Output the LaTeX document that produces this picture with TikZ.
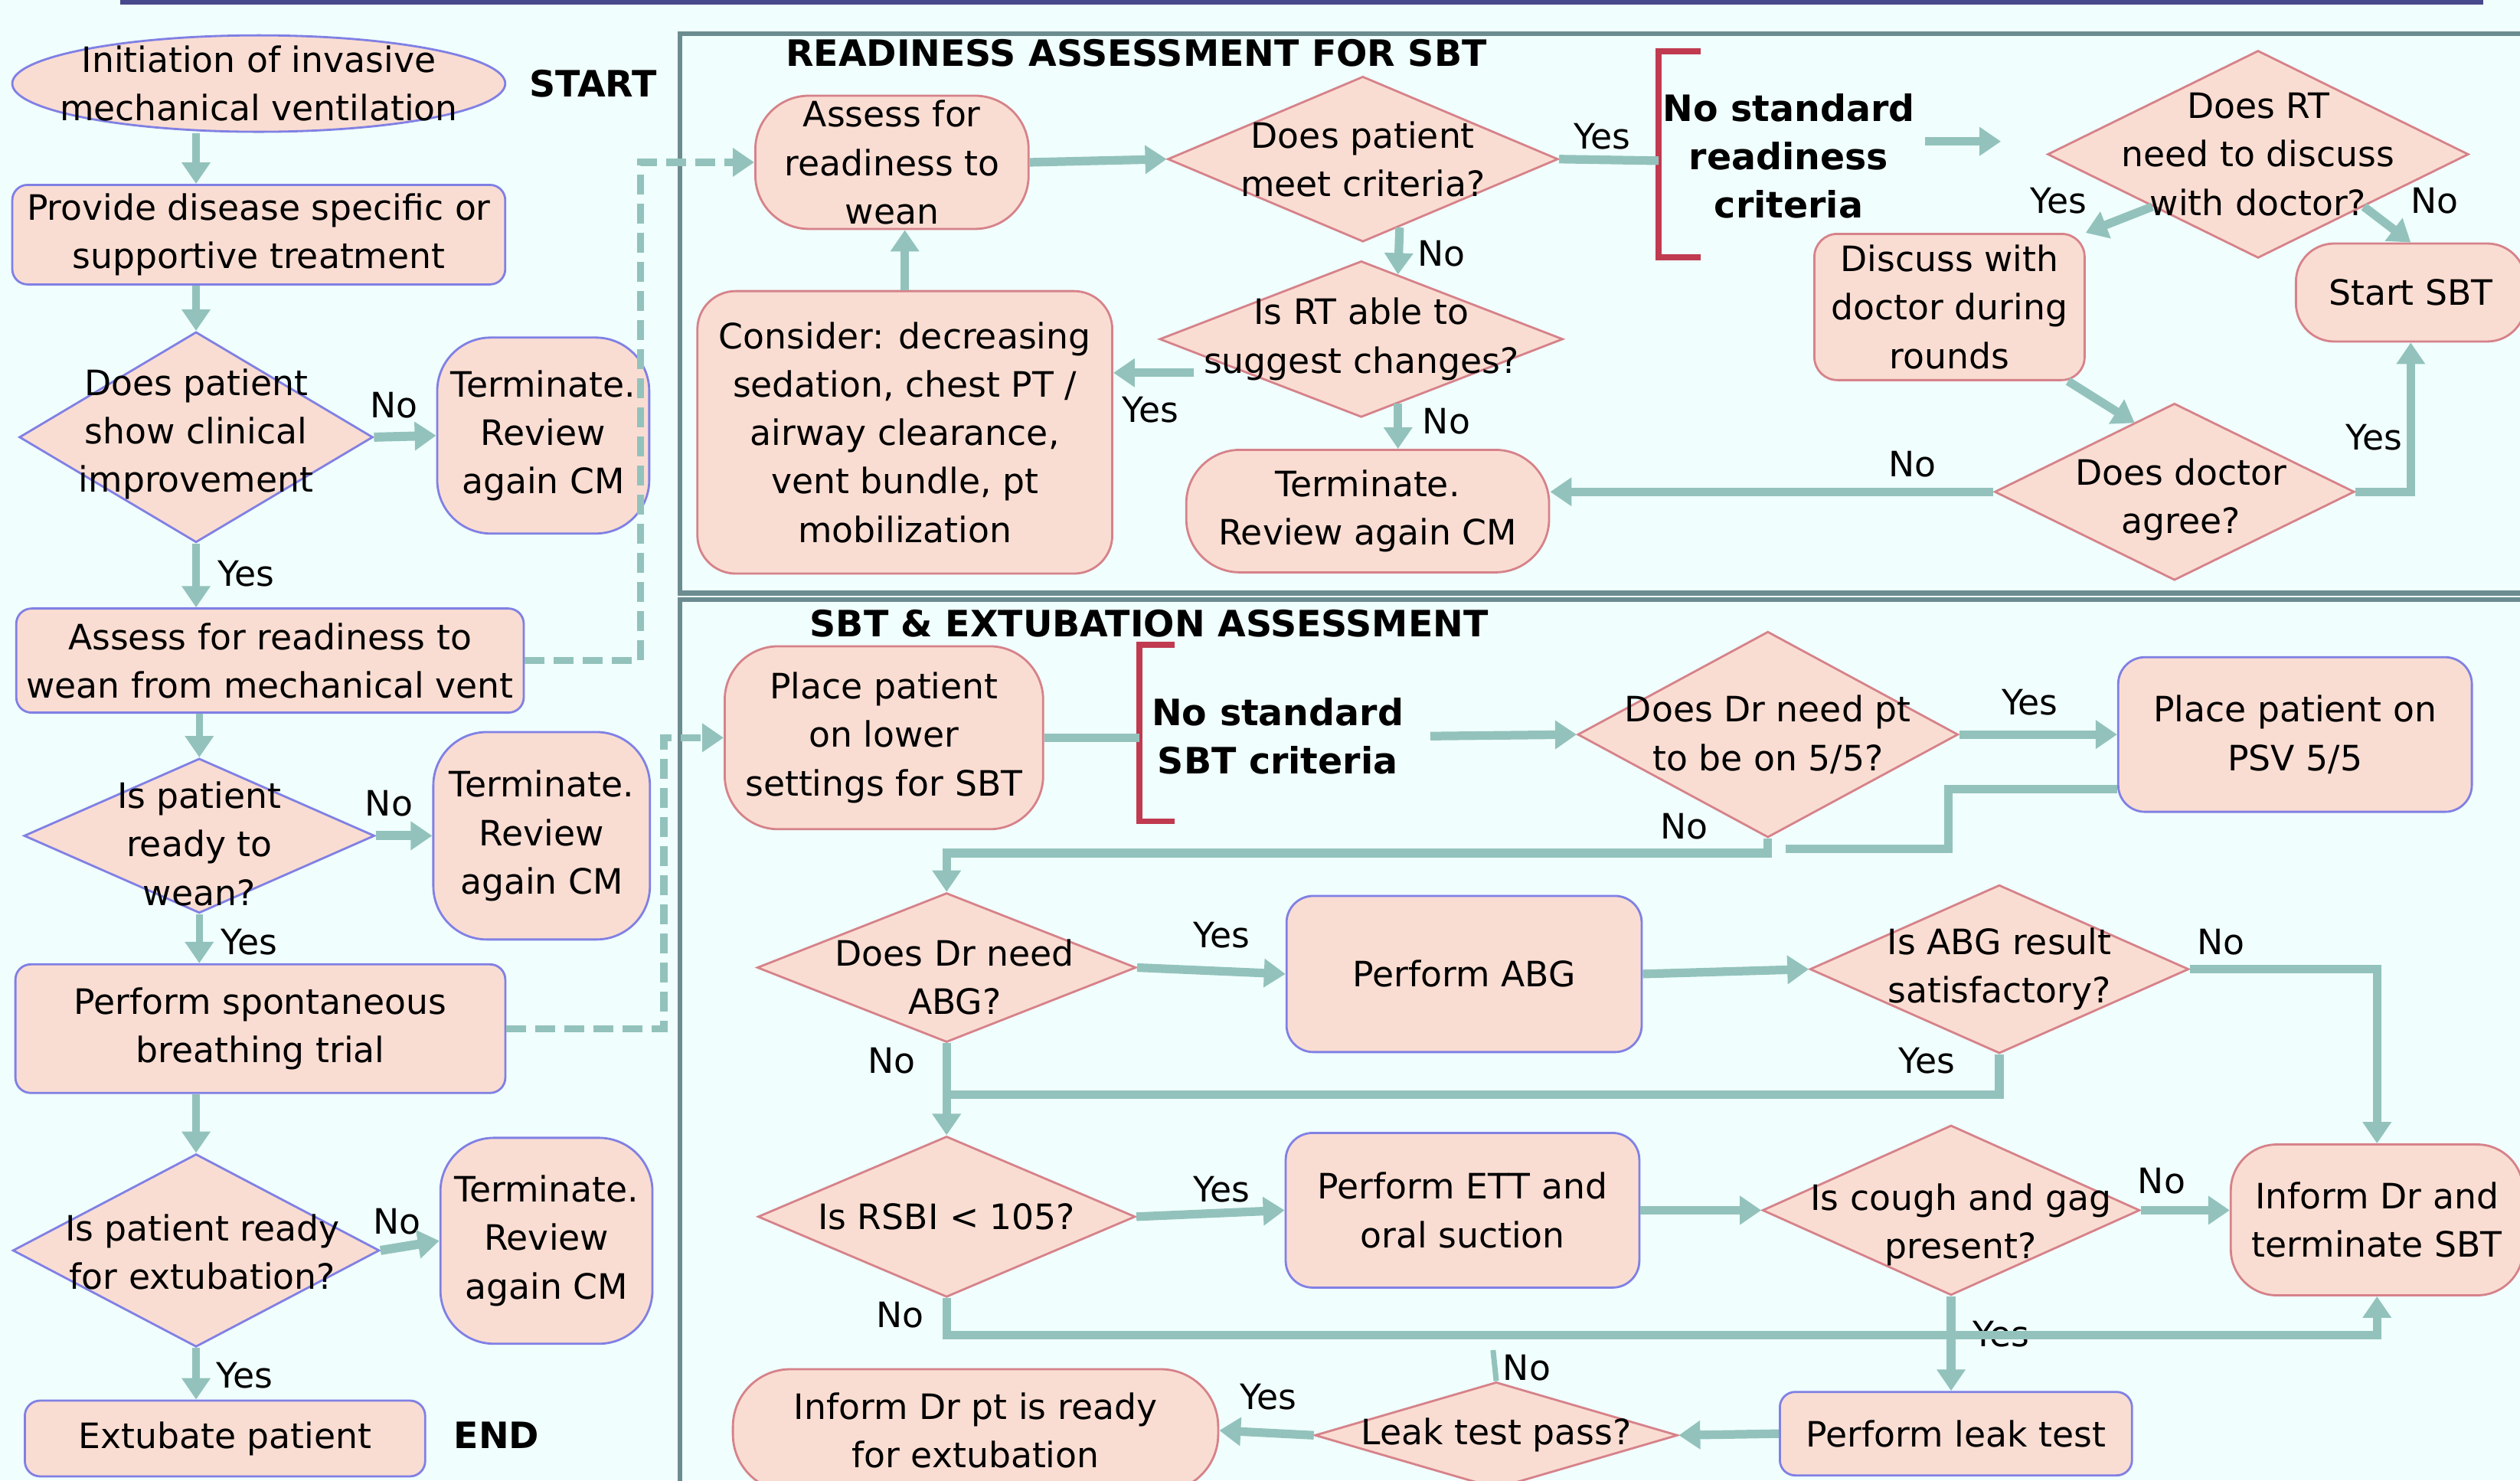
\documentclass[tikz,border=0pt]{standalone}
\usepackage{fontspec}
\setmainfont{DejaVu Sans}
\usepackage{xcolor}
\usetikzlibrary{positioning,shapes.geometric,arrows.meta,calc}

\definecolor{bgcol}{RGB}{240,255,253}
\definecolor{boxfill}{RGB}{250,221,210}
\definecolor{lav}{RGB}{128,128,228}
\definecolor{rose}{RGB}{214,130,138}
\definecolor{conn}{RGB}{147,194,188}
\definecolor{panelcol}{RGB}{108,140,144}
\definecolor{brack}{RGB}{192,58,80}
\definecolor{topline}{RGB}{72,72,140}

\begin{document}
\begin{tikzpicture}[
    x=0.02099cm, y=-0.02099cm,
    every node/.style={font=\fontsize{13}{18}\selectfont},
    box/.style={draw=lav, line width=0.8pt, fill=boxfill, rounded corners=0.2cm, align=center, inner sep=1pt},
    pbox/.style={box, draw=rose},
    pill/.style={box, rounded corners=0.7cm},
    ppill/.style={pill, draw=rose},
    oval/.style={ellipse, draw=lav, line width=0.8pt, fill=boxfill, inner sep=0pt},
    decision/.style={diamond, draw=lav, line width=0.8pt, fill=boxfill, inner sep=0pt},
    pdecision/.style={decision, draw=rose},
    txt/.style={align=center, inner sep=0pt},
    lbl/.style={inner sep=1pt},
    heading/.style={font=\fontsize{13.5}{18}\selectfont\bfseries},
    strong/.style={txt, font=\fontsize{13.5}{18}\selectfont\bfseries},
    flow/.style={draw=conn, line width=2.6pt, -{Triangle[length=0.28cm,width=0.36cm]}},
    arrow/.style={flow, line width=3.2pt},
    link/.style={draw=conn, line width=3.2pt},
    dashflow/.style={flow, dash pattern=on 0.26cm off 0.12cm},
    bracket/.style={draw=brack, line width=2.2pt},
    panel/.style={draw=panelcol, line width=1.8pt}
]
\useasboundingbox (0,0) rectangle (1568,921);
\clip (0,0) rectangle (1568,921);
\fill[bgcol] (0,0) rectangle (1568,921);
\draw[line width=2.5pt, topline] (75,1) -- (1545,1);

% Panels
\draw[panel] (423,21) rectangle (1590,369);
\draw[panel] (423,373) rectangle (1590,950);
\node[heading] (title1) at (707,33) {READINESS ASSESSMENT FOR SBT};
\node[heading] (title2) at (715,388) {SBT \& EXTUBATION ASSESSMENT};

% Left column
\node[oval, minimum width=6.44cm, minimum height=1.26cm] (init) at (161,52) {};
\node[txt] (t-init) at (init) {Initiation of invasive\\mechanical ventilation};
\node[heading] (start) at (369,52) {START};
\node[box, minimum width=6.44cm, minimum height=1.30cm] (prov) at (161,146) {Provide disease specific or\\supportive treatment};
\node[decision, minimum width=4.62cm, minimum height=2.75cm] (improve) at (122,272) {};
\node[txt] (t-improve) at (122,270) {Does patient\\show clinical\\improvement};
\node[pill, minimum width=2.77cm, minimum height=2.56cm] (term1) at (338,271) {Terminate.\\Review\\again CM};
\node[box, minimum width=6.63cm, minimum height=1.36cm] (assess) at (168,411) {Assess for readiness to\\wean from mechanical vent};
\node[decision, minimum width=4.58cm, minimum height=2.02cm] (ready) at (124,520) {};
\node[txt] (t-ready) at (124,525) {Is patient\\ready to\\wean?};
\node[pill, minimum width=2.83cm, minimum height=2.71cm] (term2) at (337,520) {Terminate.\\Review\\again CM};
\node[box, minimum width=6.40cm, minimum height=1.68cm] (sbt) at (162,640) {Perform spontaneous\\breathing trial};
\node[decision, minimum width=4.79cm, minimum height=2.52cm] (extub) at (122,778) {};
\node[txt] (t-extub) at (126,779) {Is patient ready\\for extubation?};
\node[pill, minimum width=2.77cm, minimum height=2.69cm] (term3) at (340,772) {Terminate.\\Review\\again CM};
\node[box, minimum width=5.23cm, minimum height=0.99cm] (ext) at (140,895) {Extubate patient};
\node[heading] (fin) at (309,893) {END};

\node[lbl] (no1) at (245,252) {No};
\node[lbl] (yes1) at (153,357) {Yes};
\node[lbl] (no2) at (242,500) {No};
\node[lbl] (yes2) at (155,586) {Yes};
\node[lbl] (no3) at (247,760) {No};
\node[lbl] (yes3) at (152,856) {Yes};

\draw[flow] (init.south -| improve.north) -- (prov.north -| improve.north);
\draw[flow] (prov.south -| improve.north) -- (improve.north);
\draw[flow, line width=3.4pt] (improve.east) -- (term1.west);
\draw[flow] (improve.south) -- (improve.south |- assess.north);
\draw[flow] (assess.south -| ready.north) -- (ready.north);
\draw[flow, line width=3.4pt] (ready.east) -- (term2.west);
\draw[flow] (ready.south) -- (ready.south |- sbt.north);
\draw[flow] (sbt.south -| extub.north) -- (extub.north);
\draw[flow, line width=3.4pt] (extub.east) -- (term3.west);
\draw[flow] (extub.south) -- (extub.south |- ext.north);

% Readiness assessment
\node[ppill, minimum width=3.57cm, minimum height=1.74cm, inner sep=0pt] (rdy) at (555,101) {Assess for\\readiness to\\wean};
\node[pdecision, minimum width=5.10cm, minimum height=2.16cm] (meet) at (848,99) {};
\node[txt] (t-meet) at (meet) {Does patient\\meet criteria?};
\coordinate (br1) at (1032,100);
\draw[bracket] (1058,32) -- (1032,32) -- (1032,160) -- (1058,160);
\node[strong] (std1) at (1113,97) {No standard\\readiness\\criteria};
\coordinate (std1out) at (1198,88);
\coordinate (std1to) at (1245,88);
\node[pdecision, minimum width=5.50cm, minimum height=2.71cm] (rtneed) at (1405,96) {};
\node[txt] (t-rtneed) at (rtneed) {Does RT\\need to discuss\\with doctor?};
\node[pbox, minimum width=3.53cm, minimum height=1.91cm, rounded corners=0.3cm] (discuss) at (1213,191) {Discuss with\\doctor during\\rounds};
\node[ppill, minimum width=3.0cm, minimum height=1.28cm, rounded corners=0.5cm] (startsbt) at (1500,182) {Start SBT};
\node[pdecision, minimum width=4.70cm, minimum height=2.31cm] (agree) at (1353,306) {};
\node[txt] (t-agree) at (1357,311) {Does doctor\\agree?};
\node[pdecision, minimum width=5.27cm, minimum height=2.04cm] (rtable) at (847,211) {};
\node[txt] (t-rtable) at (rtable) {Is RT able to\\suggest changes?};
\node[ppill, minimum width=5.42cm, minimum height=3.69cm, rounded corners=0.5cm] (consider) at (563,269) {Consider: decreasing\\sedation, chest PT /\\airway clearance,\\vent bundle, pt\\mobilization};
\node[ppill, minimum width=4.74cm, minimum height=1.60cm] (term4) at (851,318) {Terminate.\\Review again CM};

\node[lbl] (yes4) at (997,85) {Yes};
\node[lbl] (no4) at (897,158) {No};
\node[lbl] (no5) at (900,262) {No};
\node[lbl] (yes5) at (716,255) {Yes};
\node[lbl] (yes6) at (1281,125) {Yes};
\node[lbl] (no6) at (1515,125) {No};
\node[lbl] (yes7) at (1477,272) {Yes};
\node[lbl] (no7) at (1190,289) {No};

\draw[dashflow] (assess.east) -- ++(72,0) |- (rdy.west);
\draw[arrow] (rdy.east) -- (meet.west);
\draw[link] (meet.east) -- (br1);
\draw[arrow] (std1out) -- (std1to);
\draw[arrow] ([xshift=0.48cm,yshift=0.2cm]meet.south) -- ([xshift=0.48cm,yshift=-0.19cm]rtable.north);
\draw[arrow] ([xshift=0.48cm,yshift=0.19cm]rtable.south) -- ([xshift=0.48cm]rtable.south |- term4.north);
\draw[arrow] ([xshift=0.46cm,yshift=-0.44cm]rtable.west) -- ([yshift=-0.44cm]rtable.west -| consider.east);
\draw[arrow] (consider.north) -- (consider.north |- rdy.south);
\draw[arrow] (rtneed.south west) -- (discuss.north east);
\draw[arrow] (rtneed.south east) -- (startsbt.north);
\draw[arrow] ([xshift=-0.23cm]discuss.south east) -- ([xshift=-0.52cm,yshift=-0.27cm]agree.north);
\draw[arrow] (agree.east) -| (startsbt.south);
\draw[arrow] (agree.west) -- (agree.west -| term4.east);

% SBT and extubation
\node[ppill, minimum width=4.16cm, minimum height=2.39cm] (place) at (550,459) {Place patient\\on lower\\settings for SBT};
\coordinate (br2) at (709,459);
\draw[bracket] (731,401) -- (709,401) -- (709,511) -- (731,511);
\node[strong] (std2) at (795,458) {No standard\\SBT criteria};
\coordinate (std2out) at (890,458);
\node[pdecision, minimum width=4.97cm, minimum height=2.69cm] (pt55) at (1100,457) {};
\node[txt] (t-pt55) at (pt55) {Does Dr need pt\\to be on 5/5?};
\node[box, minimum width=4.62cm, minimum height=2.02cm, rounded corners=0.35cm] (psv) at (1428,457) {Place patient on\\PSV 5/5};
\coordinate (psvend) at (1111,528);
\node[pdecision, minimum width=4.95cm, minimum height=1.95cm] (abg) at (589,602) {};
\node[txt] (t-abg) at (594,608) {Does Dr need\\ABG?};
\node[box, minimum width=4.64cm, minimum height=2.04cm, rounded corners=0.35cm] (pabg) at (911,606) {Perform ABG};
\node[pdecision, minimum width=4.95cm, minimum height=2.20cm] (abgok) at (1244,603) {};
\node[txt] (t-abgok) at (abgok) {Is ABG result\\satisfactory?};
\node[pdecision, minimum width=4.93cm, minimum height=2.10cm] (rsbi) at (589,757) {};
\node[txt] (t-rsbi) at (rsbi) {Is RSBI < 105?};
\node[box, minimum width=4.62cm, minimum height=2.02cm, rounded corners=0.35cm] (ett) at (910,753) {Perform ETT and\\oral suction};
\node[pdecision, minimum width=4.93cm, minimum height=2.22cm] (cough) at (1214,753) {};
\node[txt] (t-cough) at (1220,762) {Is cough and gag\\present?};
\node[ppill, minimum width=3.82cm, minimum height=1.97cm, rounded corners=0.6cm] (infterm) at (1479,759) {Inform Dr and\\terminate SBT};
\node[box, minimum width=4.60cm, minimum height=1.09cm] (leak) at (1217,892) {Perform leak test};
\node[pdecision, minimum width=4.74cm, minimum height=1.39cm] (leakpass) at (931,893) {};
\node[txt] (t-leakpass) at (leakpass) {Leak test pass?};
\coordinate (lpno) at (929,840);
\node[ppill, minimum width=6.34cm, minimum height=1.6cm, rounded corners=0.75cm] (inform) at (607,890) {Inform Dr pt is ready\\for extubation};

\node[lbl] (yes8) at (1263,437) {Yes};
\node[lbl] (no8) at (1048,514) {No};
\node[lbl] (yes9) at (760,582) {Yes};
\node[lbl] (no9) at (555,660) {No};
\node[lbl] (no10) at (1382,586) {No};
\node[lbl] (yes10) at (1199,660) {Yes};
\node[lbl] (yes11) at (760,740) {Yes};
\node[lbl] (no11) at (1345,735) {No};
\node[lbl] (no12) at (560,818) {No};
\node[lbl] (yes12) at (1245,830) {Yes};
\node[lbl] (no13) at (950,851) {No};
\node[lbl] (yes13) at (789,869) {Yes};

\draw[dashflow] (sbt.east) -- ++(98,0) |- (place.west);
\draw[link] (place.east) -- (br2);
\draw[arrow] (std2out) -- (pt55.west);
\draw[arrow] (pt55.east) -- (psv.west);
\draw[link] ([yshift=-0.71cm]psv.west) -- ++(-105,0) |- (psvend);
\draw[arrow] (pt55.south) -- ++(0,9) -| (abg.north);
\draw[arrow] (abg.east) -- (pabg.west);
\draw[arrow] (pabg.east) -- (abgok.west);
\draw[arrow] (abgok.east) -| (infterm.north);
\draw[arrow] (abg.south) -- (rsbi.north);
\draw[link] (abgok.south) |- ($(abg.south)!0.56!(rsbi.north)$);
\draw[arrow] (rsbi.east) -- (ett.west);
\draw[arrow] (ett.east) -- (ett.east -| cough.west);
\draw[arrow] (cough.east) -- (cough.east -| infterm.west);
\draw[arrow] (rsbi.south) -- ++(0,23) -| (infterm.south);
\draw[arrow] (cough.south) -- (cough.south |- leak.north);
\draw[arrow] (leak.west) -- (leakpass.east);
\draw[link, line width=2pt] (leakpass.north) -- (lpno);
\draw[arrow] (leakpass.west) -- (inform.east);

\end{tikzpicture}
\end{document}
